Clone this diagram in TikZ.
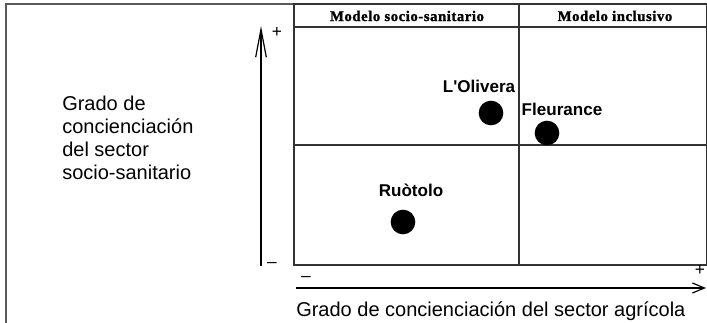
\documentclass[tikz,border=0pt]{standalone}
\usepackage{fontspec}
\setmainfont{Liberation Sans}
\newfontfamily\hdrfont[LetterSpace=4,FakeBold=1.5]{Liberation Serif Bold}
\usetikzlibrary{arrows.meta}

\tikzstyle{tablegrid}=[draw=black!80, line width=1.1pt]
\tikzstyle{outerframe}=[draw=black!65, line width=1.5pt]
\tikzstyle{axisline}=[draw=black, line width=0.9pt]
\tikzstyle{colhead}=[font=\hdrfont\fontsize{11}{12}\selectfont]
\tikzstyle{farm}=[font=\bfseries\fontsize{12.8}{14}\selectfont]
\tikzstyle{pfarm}=[circle, fill=black, minimum size=18.5pt, inner sep=0pt]
\tikzstyle{pmsign}=[font=\fontsize{13}{14}\selectfont, inner sep=0pt]
\tikzstyle{axislabel}=[font=\fontsize{15}{17.25}\selectfont, inner sep=0pt, align=left]

\begin{document}
\begin{tikzpicture}[x=0.75pt, y=-0.75pt]
\useasboundingbox (0,0) rectangle (707,323);

\draw[outerframe] (6,323) -- (6,4) -- (707,4);

\draw[tablegrid] (294,4) rectangle (707,265);
\draw[tablegrid] (294,27) -- (707,27);
\draw[tablegrid] (294,145) -- (707,145);
\draw[tablegrid] (519,4) -- (519,265);

\node[colhead] (h1) at (407,16) {Modelo socio-sanitario};
\node[colhead] (h2) at (615,16) {Modelo inclusivo};

\node[pfarm] (p1) at (491,113) {};
\node[farm] (l1) at (479,86) {L\textquotesingle Olivera};

\node[pfarm] (p2) at (547,133) {};
\node[farm] (l2) at (562,109) {Fleurance};

\node[pfarm] (p3) at (403,222) {};
\node[farm] (l3) at (411,190) {Ruòtolo};

\coordinate (y0) at (261,266);
\coordinate (y1) at (261,26);
\draw[axisline, -{Straight Barb[length=21pt, width=8pt]}] (y0) -- (y1);
\node[pmsign] (yp) at (277,33) {+};
\node[pmsign] (ym) at (272,265) {–};

\coordinate (x0) at (296,288);
\coordinate (x1) at (706,288);
\draw[axisline, -{Straight Barb[length=9pt, width=7.5pt]}] (x0) -- (x1);
\node[pmsign] (xm) at (306,279) {–};
\node[pmsign] (xp) at (700,271) {+};

\node[axislabel, anchor=north west] (ty) at (62,96) {Grado de\\concienciación\\del sector\\socio-sanitario};
\node[axislabel, anchor=base west] (tx) at (296,317) {Grado de concienciación del sector agrícola};
\end{tikzpicture}
\end{document}
